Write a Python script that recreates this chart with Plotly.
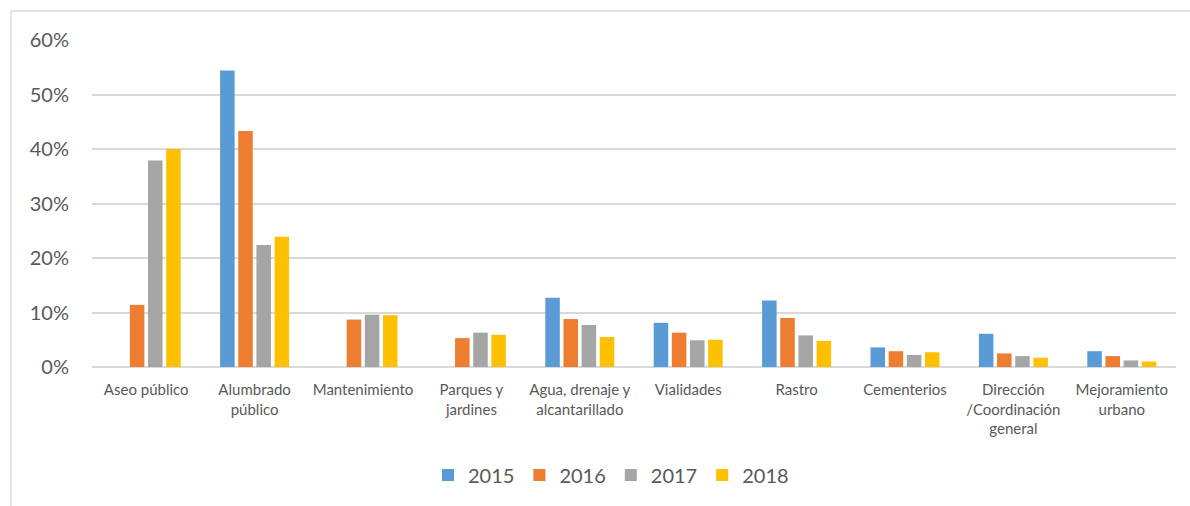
import plotly.graph_objects as go

categories = ["Aseo público", "Alumbrado<br>público", "Mantenimiento", "Parques y<br>jardines",
              "Agua, drenaje y<br>alcantarillado", "Vialidades", "Rastro", "Cementerios",
              "Dirección<br>/Coordinación<br>general", "Mejoramiento<br>urbano"]
years = ["2015", "2016", "2017", "2018"]
v2015 = [None, 0.544, None, None, 0.127, 0.081, 0.122, 0.036, 0.061, 0.029]
v2016 = [0.114, 0.433, 0.087, 0.053, 0.088, 0.063, 0.090, 0.029, 0.025, 0.020]
v2017 = [0.379, 0.224, 0.096, 0.063, 0.077, 0.049, 0.058, 0.022, 0.020, 0.012]
v2018 = [0.400, 0.239, 0.095, 0.059, 0.055, 0.050, 0.048, 0.027, 0.017, 0.010]
series = [v2015, v2016, v2017, v2018]
colors = ["#5b9bd5", "#ed7d31", "#a5a5a5", "#ffc000"]

W, H = 1190, 506
ml, mr, mt, mb = 92, 14, 40, 139
pw, ph = W - ml - mr, H - mt - mb

fig = go.Figure()
for name, vals, c in zip(years, series, colors):
    fig.add_trace(go.Bar(x=categories, y=vals, name=name, marker_color=c,
                         marker_line_width=0))

def px_x(p):
    return (p - ml) / pw

def px_y(p):
    return 1 - (p - mt) / ph

fig.add_shape(type="line", xref="paper", yref="paper", x0=px_x(11), x1=px_x(1200),
              y0=px_y(11), y1=px_y(11), line=dict(color="#d9d9d9", width=1.3))
fig.add_shape(type="line", xref="paper", yref="paper", x0=px_x(11), x1=px_x(11),
              y0=px_y(11), y1=px_y(520), line=dict(color="#d9d9d9", width=1.3))

font_family = "Lato, 'Open Sans', sans-serif"
fig.update_layout(
    width=W, height=H,
    margin=dict(l=ml, r=mr, t=mt, b=mb),
    paper_bgcolor="white", plot_bgcolor="white",
    barmode="group", bargap=0.33, bargroupgap=0.2,
    font=dict(family=font_family, color="#595959"),
    showlegend=True,
    legend=dict(orientation="h", x=px_x(611), xanchor="center",
                y=px_y(475), yanchor="middle",
                font=dict(size=20, color="#595959"),
                itemwidth=30, traceorder="normal"),
    xaxis=dict(showgrid=False, showline=False, ticks="", ticklabelstandoff=12,
               tickfont=dict(size=15, color="#595959"), tickangle=0),
    yaxis=dict(range=[0, 0.6], dtick=0.1, tickformat=".0%",
               showgrid=True, gridcolor="#d9d9d9", gridwidth=1.5,
               zeroline=True, zerolinecolor="#d9d9d9", zerolinewidth=1.5,
               showline=False, ticks="", ticklabelstandoff=22,
               tickfont=dict(size=20, color="#595959")),
)

fig.write_html("out.html", config={"displayModeBar": False},
               post_script="document.body.style.margin='0';document.body.style.overflow='hidden';")
